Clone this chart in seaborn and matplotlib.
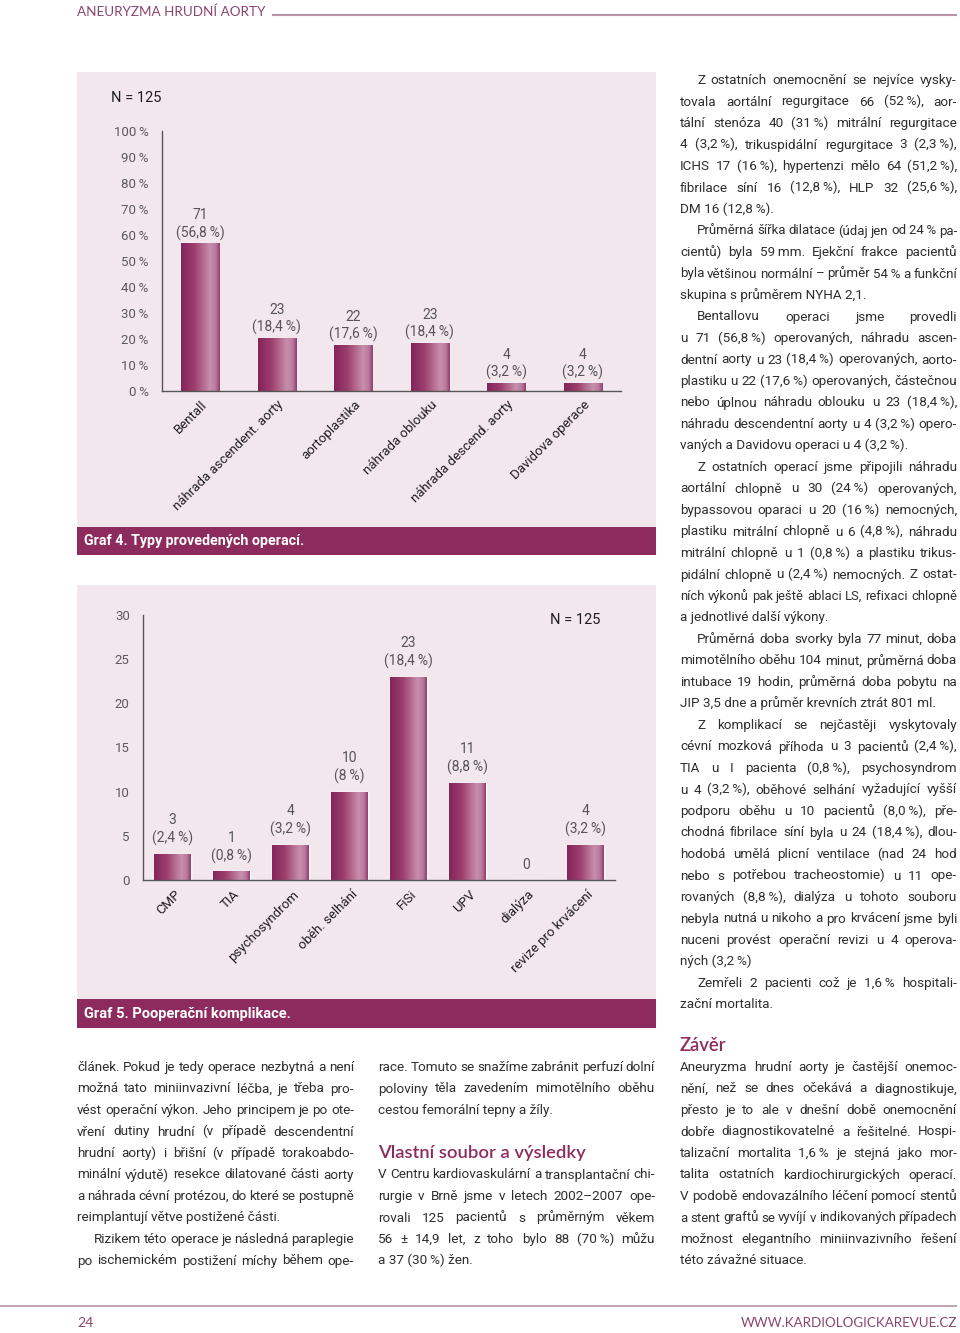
import numpy as np
import matplotlib
matplotlib.use("Agg")
import matplotlib.pyplot as plt
import seaborn as sns
from matplotlib.colors import LinearSegmentedColormap
from matplotlib.patches import Rectangle
from matplotlib.transforms import ScaledTranslation

# ---------------- data ----------------
op_categories = ["Bentall", "náhrada ascendent. aorty", "aortoplastika",
                 "náhrada oblouku", "náhrada descend. aorty", "Davidova operace"]
op_bar_percent = [56.8, 20.3, 17.6, 18.4, 3.2, 3.2]
op_counts = [71, 23, 22, 23, 4, 4]
op_percent_text = ["56,8", "18,4", "17,6", "18,4", "3,2", "3,2"]
op_yticks = [0, 10, 20, 30, 40, 50, 60, 70, 80, 90, 100]

comp_categories = ["CMP", "TIA", "psychosyndrom", "oběh. selhání", "FiSi",
                   "UPV", "dialýza", "revize pro krvácení"]
comp_counts = [3, 1, 4, 10, 23, 11, 0, 4]
comp_percent_text = ["2,4", "0,8", "3,2", "8", "18,4", "8,8", "", "3,2"]
comp_yticks = [0, 5, 10, 15, 20, 25, 30]

# ---------------- style ----------------
sns.set_style("white")
FAM = ["Roboto", "DejaVu Sans"]
plt.rcParams["font.family"] = FAM
MAGENTA = "#8e2b5e"
PANEL = "#f3e7ee"
AXC = "#555555"
BODY = "#2e2e2e"
THIN = "\u2009"

fig = plt.figure(figsize=(9.6, 13.33), dpi=100)
page = fig.add_axes([0, 0, 1, 1])
page.set_xlim(0, 960)
page.set_ylim(1333, 0)
page.axis("off")
R = fig.canvas.get_renderer()

bar_cmap = LinearSegmentedColormap.from_list(
    "bar", [(0, "#84245a"), (0.35, "#9c3f6d"), (0.75, "#c88fad"),
            (0.9, "#b8789b"), (1, "#92386a")])
grad = np.linspace(0, 1, 256).reshape(1, -1)


def px(x, y, w, h):
    return [x / 960, 1 - (y + h) / 1333, w / 960, h / 1333]


def shade_bars(ax):
    for p in list(ax.patches):
        x, y, w, h = p.get_x(), p.get_y(), p.get_width(), p.get_height()
        if h <= 0:
            continue
        im = ax.imshow(grad, extent=[x, x + w, y, y + h], cmap=bar_cmap,
                       aspect="auto", interpolation="bicubic",
                       zorder=p.get_zorder() + 0.1)
        im.set_clip_path(p)


def style_axes(ax, n, ylim, yticks, ylabels, pad_lab, dx_px):
    ax.set_facecolor("none")
    ax.set_xlim(-0.5, n - 0.5)
    ax.set_ylim(*ylim)
    ax.set_xlabel("")
    ax.set_ylabel("")
    for s in ["top", "right"]:
        ax.spines[s].set_visible(False)
    for s in ["left", "bottom"]:
        ax.spines[s].set_color(AXC)
        ax.spines[s].set_linewidth(1.0)
    ax.set_yticks(yticks)
    ax.set_yticklabels(ylabels)
    ax.tick_params(axis="y", direction="out", length=5, width=1, color=AXC,
                   pad=4.5, labelsize=9.5, labelcolor="#5a5a5a")
    ax.set_xticks(np.arange(-0.5, n, 1), minor=True)
    ax.tick_params(axis="x", which="minor", direction="out", length=5,
                   width=1, color=AXC)
    ax.tick_params(axis="x", which="major", length=0, pad=pad_lab,
                   labelsize=9.5, labelcolor="#1e1e1e")
    off = ScaledTranslation(dx_px / 100, 0, fig.dpi_scale_trans)
    for lab in ax.get_xticklabels():
        lab.set_rotation(45)
        lab.set_ha("right")
        lab.set_va("center")
        lab.set_rotation_mode("anchor")
        lab.set_transform(lab.get_transform() + off)
    ax.grid(False)


# ---------------- panels ----------------
page.add_patch(Rectangle((77, 72), 579, 455, color=PANEL, lw=0))
page.add_patch(Rectangle((77, 527), 579, 28, color=MAGENTA, lw=0))
page.add_patch(Rectangle((77, 585), 579, 414, color=PANEL, lw=0))
page.add_patch(Rectangle((77, 999), 579, 29, color=MAGENTA, lw=0))


def width_of(s, **kw):
    t = page.text(0, 0, s, **kw)
    w = t.get_window_extent(renderer=R).width
    t.remove()
    return w


def fit_text(x, y, s, target_w, ha="left", va="center", **kw):
    w10 = width_of(s, fontsize=10, **kw)
    fs = 10 * target_w / w10
    page.text(x, y, s, fontsize=fs, ha=ha, va=va, **kw)


CAPF = dict(family=["Liberation Sans Narrow", "Roboto", "DejaVu Sans"],
            weight="bold", color="white")
fit_text(84, 541.5, "Graf 4. Typy provedených operací.", 221, **CAPF)
fit_text(84, 1014, "Graf 5. Pooperační komplikace.", 207, **CAPF)

# ---------------- chart 1 ----------------
ax1 = fig.add_axes(px(162, 131, 459, 260))
sns.barplot(x=op_categories, y=op_bar_percent, color="#9c3f6d", width=0.5,
            saturation=1, errorbar=None, ax=ax1)
shade_bars(ax1)
style_axes(ax1, len(op_categories), (0, 100), op_yticks,
           [f"{v}{THIN}%" for v in op_yticks], 8.5, 5)
for p, c, t in zip(ax1.patches, op_counts, op_percent_text):
    ax1.annotate(f"{c}\n({t}{THIN}%)", (p.get_x() + p.get_width() / 2, p.get_height()),
                 xytext=(0, 2), textcoords="offset points", ha="center",
                 va="bottom", fontsize=10, color="#555555", linespacing=1.25,
                 annotation_clip=False)
page.text(111, 98, "N = 125", fontsize=10.5, color="#1e1e1e", va="center")

# ---------------- chart 2 ----------------
ax2 = fig.add_axes(px(143, 615, 472, 265))
sns.barplot(x=comp_categories, y=comp_counts, color="#9c3f6d", width=0.62,
            saturation=1, errorbar=None, ax=ax2)
shade_bars(ax2)
style_axes(ax2, len(comp_categories), (0, 30), comp_yticks,
           [str(v) for v in comp_yticks], 9, 6)
for i, (c, t) in enumerate(zip(comp_counts, comp_percent_text)):
    lab = f"{c}\n({t}{THIN}%)" if t else f"{c}"
    ax2.annotate(lab, (i, c), xytext=(0, 5.5), textcoords="offset points",
                 ha="center", va="bottom", fontsize=10, color="#555555",
                 linespacing=1.3, annotation_clip=False)
page.text(550, 620, "N = 125", fontsize=10.5, color="#1e1e1e", va="center")

# ---------------- page text ----------------
BODY_FS = 9.7
MIN_GAP = 2.6
BODYKW = dict(family=FAM, color=BODY, weight="normal")
_cache = {}


def w_word(s, fs):
    k = (s, round(fs, 2))
    if k not in _cache:
        _cache[k] = width_of(s, fontsize=fs, **BODYKW)
    return _cache[k]


def draw_line(x0, x1, yb, text, justify):
    text = text.replace(" %", THIN + "%")
    words = text.split(" ")
    fs = BODY_FS
    while True:
        ws = [w_word(w, fs) for w in words]
        natural = sum(ws) + MIN_GAP * (len(words) - 1)
        if natural <= (x1 - x0) or fs < 7.5:
            break
        fs -= 0.1
    if not justify:
        page.text(x0, yb, text, fontsize=fs, va="baseline", **BODYKW)
        return
    gap = (x1 - x0 - sum(ws)) / max(len(words) - 1, 1)
    x = x0
    for w, wd in zip(words, ws):
        page.text(x, yb, w, fontsize=fs, va="baseline", **BODYKW)
        x += wd + gap


def draw_column(x0, x1, base, step, items):
    row = 0
    for kind, payload in items:
        if kind == "skip":
            row += payload
            continue
        indent, lines, last_just = payload
        for j, ln in enumerate(lines):
            xs = x0 + (17 if (indent and j == 0) else 0)
            is_last = j == len(lines) - 1
            draw_line(xs, x1, base + step * row, ln, (not is_last) or last_just)
            row += 1


right_col = [
    ("p", (True, ["Z ostatních onemocnění se nejvíce vysky-",
                  "tovala aortální regurgitace 66 (52 %), aor-",
                  "tální stenóza 40 (31 %) mitrální regurgitace",
                  "4 (3,2 %), trikuspidální regurgitace 3 (2,3 %),",
                  "ICHS 17 (16 %), hypertenzi mělo 64 (51,2 %),",
                  "fibrilace síní 16 (12,8 %), HLP 32 (25,6 %),",
                  "DM 16 (12,8 %)."], False)),
    ("p", (True, ["Průměrná šířka dilatace (údaj jen od 24 % pa-",
                  "cientů) byla 59\u2009mm. Ejekční frakce pacientů",
                  "byla většinou normální – průměr 54 % a funkční",
                  "skupina s průměrem NYHA 2,1."], False)),
    ("p", (True, ["Bentallovu operaci jsme provedli",
                  "u 71 (56,8 %) operovaných, náhradu ascen-",
                  "dentní aorty u 23 (18,4 %) operovaných, aorto-",
                  "plastiku u 22 (17,6 %) operovaných, částečnou",
                  "nebo úplnou náhradu oblouku u 23 (18,4 %),",
                  "náhradu descendentní aorty u 4 (3,2 %) opero-",
                  "vaných a Davidovu operaci u 4 (3,2 %)."], False)),
    ("p", (True, ["Z ostatních operací jsme připojili náhradu",
                  "aortální chlopně u 30 (24 %) operovaných,",
                  "bypassovou oparaci u 20 (16 %) nemocných,",
                  "plastiku mitrální chlopně u 6 (4,8 %), náhradu",
                  "mitrální chlopně u 1 (0,8 %) a plastiku trikus-",
                  "pidální chlopně u (2,4 %) nemocných. Z ostat-",
                  "ních výkonů pak ještě ablaci LS, refixaci chlopně",
                  "a jednotlivé další výkony."], False)),
    ("p", (True, ["Průměrná doba svorky byla 77 minut, doba",
                  "mimotělního oběhu 104 minut, průměrná doba",
                  "intubace 19 hodin, průměrná doba pobytu na",
                  "JIP 3,5 dne a průměr krevních ztrát 801 ml."], False)),
    ("p", (True, ["Z komplikací se nejčastěji vyskytovaly",
                  "cévní mozková příhoda u 3 pacientů (2,4 %),",
                  "TIA u I pacienta (0,8 %), psychosyndrom",
                  "u 4 (3,2 %), oběhové selhání vyžadující vyšší",
                  "podporu oběhu u 10 pacientů (8,0 %), pře-",
                  "chodná fibrilace síní byla u 24 (18,4 %), dlou-",
                  "hodobá umělá plicní ventilace (nad 24 hod",
                  "nebo s potřebou tracheostomie) u 11 ope-",
                  "rovaných (8,8 %), dialýza u tohoto souboru",
                  "nebyla nutná u nikoho a pro krvácení jsme byli",
                  "nuceni provést operační revizi u 4 operova-",
                  "ných (3,2 %)"], False)),
    ("p", (True, ["Zemřeli 2 pacienti což je 1,6 % hospitali-",
                  "zační mortalita."], False)),
]
draw_column(680, 957, 84, 21.5, right_col)

left_col = [
    ("p", (False, ["článek. Pokud je tedy operace nezbytná a není",
                   "možná tato miniinvazivní léčba, je třeba pro-",
                   "vést operační výkon. Jeho principem je po ote-",
                   "vření dutiny hrudní (v případě descendentní",
                   "hrudní aorty) i břišní (v případě torakoabdo-",
                   "minální výdutě) resekce dilatované části aorty",
                   "a náhrada cévní protézou, do které se postupně",
                   "reimplantují větve postižené části."], False)),
    ("p", (True, ["Rizikem této operace je následná paraplegie",
                  "po ischemickém postižení míchy během ope-"], True)),
]
draw_column(77, 354, 1071, 21.5, left_col)

mid_col = [
    ("p", (False, ["race. Tomuto se snažíme zabránit perfuzí dolní",
                   "poloviny těla zavedením mimotělního oběhu",
                   "cestou femorální tepny a žíly."], False)),
    ("skip", 2),
    ("p", (False, ["V Centru kardiovaskulární a transplantační chi-",
                   "rurgie v Brně jsme v letech 2002–2007 ope-",
                   "rovali 125 pacientů s průměrným věkem",
                   "56 ± 14,9 let, z toho bylo 88 (70 %) můžu",
                   "a 37 (30 %) žen."], False)),
]
draw_column(378, 655, 1071, 21.5, mid_col)

end_col = [
    ("p", (False, ["Aneuryzma hrudní aorty je častější onemoc-",
                   "nění, než se dnes očekává a diagnostikuje,",
                   "přesto je to ale v dnešní době onemocnění",
                   "dobře diagnostikovatelné a řešitelné. Hospi-",
                   "talizační mortalita 1,6 % je stejná jako mor-",
                   "talita ostatních kardiochirurgických operací.",
                   "V podobě endovazálního léčení pomocí stentů",
                   "a stent graftů se vyvíjí v indikovaných případech",
                   "možnost elegantního miniinvazivního řešení",
                   "této závažné situace."], False)),
]
draw_column(680, 957, 1071, 21.5, end_col)

HEADK = dict(family=["Lato", "DejaVu Sans"], color=MAGENTA, va="baseline",
             weight="semibold")
fit_text(378, 1158, "Vlastní soubor a výsledky", 208, **HEADK)
fit_text(680, 1051, "Závěr", 47, **HEADK)

# header / footer
fit_text(77, 16, "ANEURYZMA HRUDNÍ AORTY", 187,
         family=["Lato", "DejaVu Sans"], color="#8b4470", va="baseline")
page.plot([272, 957], [14.5, 14.5], color="#b894a6", lw=1.5,
          solid_capstyle="butt")
page.plot([0, 957], [1306, 1306], color="#b894a6", lw=1.2,
          solid_capstyle="butt")
page.text(77, 1327, "24", fontsize=10, family=["Lato", "DejaVu Sans"],
          color="#8b4470", va="baseline")
fit_text(957, 1327, "WWW.KARDIOLOGICKAREVUE.CZ", 215, ha="right",
         family=["Lato", "DejaVu Sans"], color="#8b4470", va="baseline")

fig.savefig("out.png", dpi=100, facecolor="white")
